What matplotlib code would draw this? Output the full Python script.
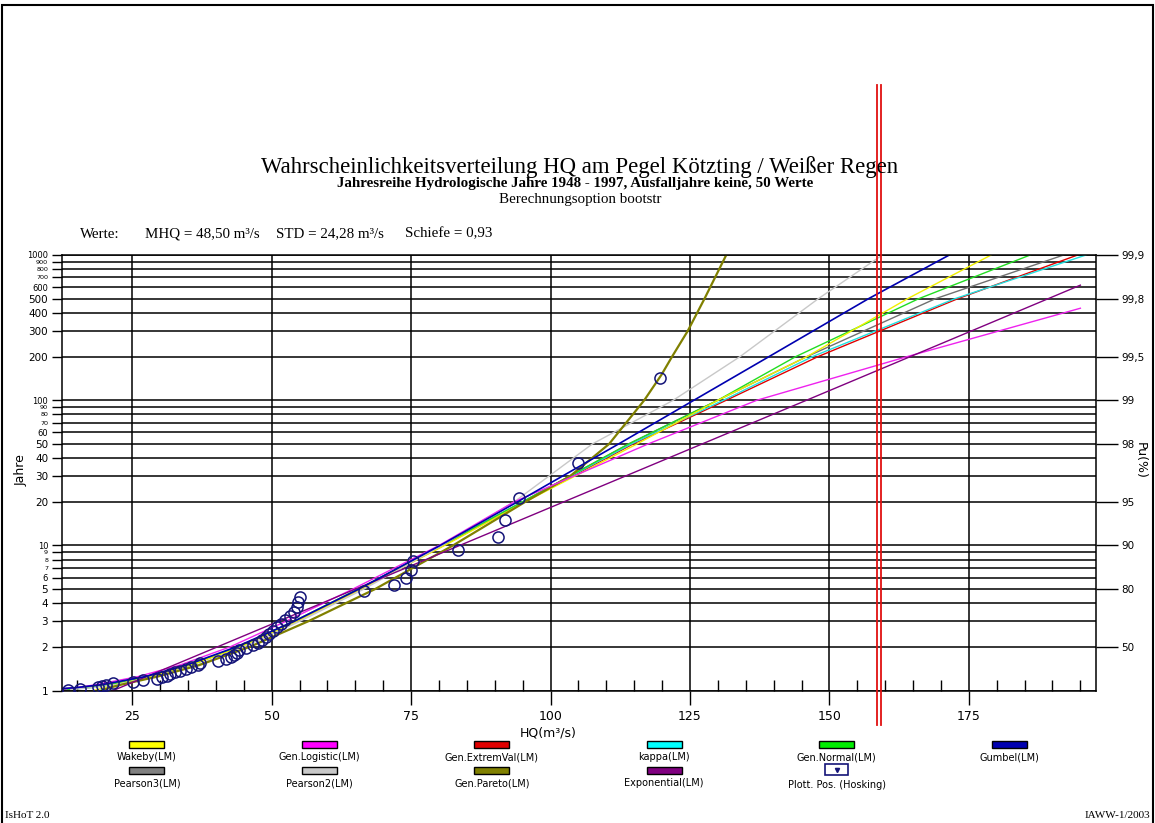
import matplotlib
matplotlib.use("Agg")
import matplotlib.pyplot as plt
from matplotlib.patches import Rectangle
from matplotlib.ticker import MultipleLocator, NullLocator, FixedLocator

# beobachtete HQ-Werte (Plotting Position Hosking), m3/s und Jaehrlichkeit
hq_obs = [13.5, 15.6, 18.8, 19.6, 20.3, 21.5, 25.2, 26.9, 29.5, 30.4,
          31.2, 31.8, 32.6, 33.5, 34.6, 35.5, 36.8, 37.2, 40.3, 41.8,
          42.7, 43.2, 43.7, 44.2, 45.4, 46.6, 47.5, 48.2, 49.0, 49.6,
          50.3, 50.9, 51.6, 52.4, 53.2, 54.0, 54.5, 54.8, 55.0, 66.5,
          71.9, 74.0, 75.0, 75.3, 83.4, 90.5, 91.8, 94.4, 105.0, 119.7]
t_obs = [1.013, 1.034, 1.056, 1.079, 1.103, 1.127, 1.153, 1.181, 1.209, 1.239,
         1.271, 1.304, 1.339, 1.376, 1.414, 1.456, 1.499, 1.546, 1.595, 1.647,
         1.704, 1.764, 1.828, 1.898, 1.972, 2.053, 2.141, 2.237, 2.342, 2.457,
         2.584, 2.725, 2.882, 3.058, 3.257, 3.484, 3.745, 4.049, 4.405, 4.831,
         5.348, 5.988, 6.803, 7.874, 9.346, 11.49, 14.93, 21.28, 37.04, 142.9]

# angepasste Verteilungen
t_std = [1.02, 1.05, 1.1, 1.25, 1.5, 2, 3, 5, 10, 20, 50, 100, 200, 500, 1000]
t_bnd = [1.0, 1.05, 1.1, 1.25, 1.5, 2, 3, 5, 10, 20, 50, 100, 200, 500, 1000]

hq_wak = [18.0, 20.0, 22.0, 28.5, 35.5, 44.5, 54.5, 66.0, 81.0, 95.5, 115.5, 130.0, 146.0, 164.0, 179.0]
hq_glo = [11.0, 15.0, 18.5, 26.0, 33.5, 42.5, 52.5, 64.5, 80.0, 93.5, 117.5, 137.0, 164.0, 195.0]
t_glo = [1.02, 1.05, 1.1, 1.25, 1.5, 2, 3, 5, 10, 20, 50, 100, 200, 430]
hq_gev = [13.5, 17.0, 20.8, 28.0, 35.2, 44.0, 54.0, 65.8, 80.8, 95.3, 114.8, 131.5, 148.0, 173.0, 194.5]
hq_kap = [19.0, 20.5, 22.5, 28.5, 35.5, 44.0, 54.0, 65.5, 80.5, 95.0, 114.5, 131.0, 147.0, 172.5, 196.0]
hq_gno = [13.5, 17.5, 21.0, 28.0, 35.5, 44.0, 54.0, 65.5, 80.5, 95.0, 114.0, 130.0, 144.0, 166.0, 186.0]
hq_gum = [10.0, 14.9, 19.5, 27.3, 34.7, 43.6, 54.0, 65.6, 80.2, 94.1, 112.2, 125.7, 139.2, 157.0, 171.5]
hq_pe3 = [12.5, 16.5, 20.5, 27.5, 35.0, 44.0, 54.0, 65.5, 80.5, 95.0, 114.0, 130.0, 146.0, 169.0, 192.0]
hq_pe2 = [14.0, 18.0, 22.0, 29.0, 36.5, 45.0, 55.0, 66.5, 80.5, 93.5, 107.5, 122.0, 134.0, 148.0, 159.5]
t_gpa = [1.0, 1.05, 1.1, 1.25, 1.5, 2, 3, 5, 10, 20, 30, 50, 100, 150, 200, 300, 500, 1000]
hq_gpa = [19.5, 21.0, 23.0, 29.5, 37.0, 46.0, 56.5, 68.5, 82.5, 95.5, 103.5, 110.5, 116.8, 119.9, 121.8, 124.6, 127.6, 131.5]
t_exp = [1.0, 10, 100, 620]
hq_exp = [21.5, 83.7, 145.9, 195.0]

hq_mark = [158.5, 159.3]

y_ticks = [1, 2, 3, 4, 5, 6, 7, 8, 9, 10, 20, 30, 40, 50, 60, 70, 80, 90,
           100, 200, 300, 400, 500, 600, 700, 800, 900, 1000]
pu_ticks = [2, 5, 10, 20, 50, 100, 200, 500, 1000]
pu_labels = ['50', '80', '90', '95', '98', '99', '99,5', '99,8', '99,9']

legend_items = [
    ('Wakeby(LM)', '#ffff00'), ('Gen.Logistic(LM)', '#ff00ff'), ('Gen.ExtremVal(LM)', '#e00000'),
    ('kappa(LM)', '#00ffff'), ('Gen.Normal(LM)', '#00ee00'), ('Gumbel(LM)', '#0000b0'),
    ('Pearson3(LM)', '#808080'), ('Pearson2(LM)', '#c8c8c8'), ('Gen.Pareto(LM)', '#808000'),
    ('Exponential(LM)', '#800080'), ('Plott. Pos. (Hosking)', None),
]

W, H = 1155, 823
fig = plt.figure(figsize=(W / 100, H / 100), dpi=100)
ax = fig.add_axes([62 / W, 1 - 690.7 / H, (1096 - 62) / W, (690.7 - 255) / H])

ax.set_yscale('log')
ax.set_xlim(12.4, 197.8)
ax.set_ylim(1, 1000)

lw = 1.0
ax.plot(hq_gev, t_std, color='#e00000', lw=lw)
ax.plot(hq_pe3, t_std, color='#707070', lw=lw)
ax.plot(hq_kap, t_bnd, color='#22e0e0', lw=lw)
ax.plot(hq_gno, t_std, color='#22dd22', lw=lw)
ax.plot(hq_wak, t_bnd, color='#f0f000', lw=lw)
ax.plot(hq_pe2, t_std, color='#c8c8c8', lw=lw)
ax.plot(hq_gpa, t_gpa, color='#808000', lw=1.6)
ax.plot(hq_glo, t_glo, color='#ee22ee', lw=lw)
ax.plot(hq_exp, t_exp, color='#800080', lw=lw)
ax.plot(hq_gum, t_std, color='#0000b0', lw=1.2)
ax.plot(hq_obs, t_obs, 'o', ms=8, mfc='none', mec='#141478', mew=1.1, zorder=5)

for xm in hq_mark:
    ax.axvline(xm, ymin=-0.079, ymax=1.39, color='#e01010', lw=1.3, clip_on=False, zorder=6)

ax.grid(True, which='major', color='black', lw=1.1)
ax.set_axisbelow(True)
ax.yaxis.set_major_locator(FixedLocator(y_ticks))
ax.yaxis.set_minor_locator(NullLocator())
ax.set_yticklabels([str(v) for v in y_ticks])
ax.xaxis.set_major_locator(FixedLocator([25, 50, 75, 100, 125, 150, 175]))
ax.xaxis.set_minor_locator(MultipleLocator(5))
ax.tick_params(axis='y', which='major', direction='out', length=7, width=1, labelsize=7.5, pad=3)
ax.tick_params(axis='x', which='major', direction='out', length=10, width=1, labelsize=9, pad=4)
ax.tick_params(axis='x', which='minor', direction='in', length=8, width=1)
# enge Beschriftungen kleiner
small = {7: 4.6, 8: 4.6, 9: 4.6, 70: 4.6, 80: 4.6, 90: 4.6, 700: 4.6, 800: 4.6, 900: 4.6,
         6: 6.0, 60: 6.0, 600: 6.0, 10: 6.0, 100: 6.0, 1000: 6.0}
for v, lab in zip(y_ticks, ax.get_yticklabels()):
    if v in small:
        lab.set_fontsize(small[v])
for s in ax.spines.values():
    s.set_linewidth(1.1)

ax2 = ax.twinx()
ax2.set_yscale('log')
ax2.set_ylim(1, 1000)
ax2.yaxis.set_major_locator(FixedLocator(pu_ticks))
ax2.yaxis.set_minor_locator(NullLocator())
ax2.set_yticklabels(pu_labels)
ax2.tick_params(axis='y', direction='out', length=16, width=1, labelsize=7.5, pad=2)
for s in ax2.spines.values():
    s.set_visible(False)

fig.text(62 / W - 0.035, 0.429, 'Jahre', rotation=90, ha='center', va='center', fontsize=9)
fig.text(1140 / W, 0.441, 'Pu(%)', rotation=270, ha='center', va='center', fontsize=9)
fig.text(548 / W, 1 - 733 / H, 'HQ(m³/s)', ha='center', va='center', fontsize=9)

serif = 'Liberation Serif'
fig.text(580 / W, 1 - 167 / H, 'Wahrscheinlichkeitsverteilung HQ am Pegel Kötzting / Weißer Regen',
         ha='center', va='center', fontsize=16.4, family=serif)
fig.text(575 / W, 1 - 184 / H, 'Jahresreihe Hydrologische Jahre 1948 - 1997, Ausfalljahre keine, 50 Werte',
         ha='center', va='center', fontsize=10.8, family=serif, weight='bold')
fig.text(580 / W, 1 - 200 / H, 'Berechnungsoption bootstr',
         ha='center', va='center', fontsize=10.8, family=serif)
wy = 1 - 234 / H
fs_w = 10.8
fig.text(80 / W, wy, 'Werte:', va='center', fontsize=fs_w, family=serif)
fig.text(145 / W, wy, 'MHQ = 48,50 m³/s', va='center', fontsize=fs_w, family=serif)
fig.text(276 / W, wy, 'STD = 24,28 m³/s', va='center', fontsize=fs_w, family=serif)
fig.text(405 / W, wy, 'Schiefe = 0,93', va='center', fontsize=fs_w, family=serif)

# Legende
for k, (lab, col) in enumerate(legend_items):
    row, c = divmod(k, 6)
    cx = (147 + 172.4 * c) / W
    sy = 1 - (748 + 25.5 * row) / H
    ty = 1 - (757 + 26 * row) / H
    if col is None:
        bw, bh = 23 / W, 11 / H
        fig.patches.append(Rectangle((cx - bw / 2, 1 - 775 / H), bw, bh, transform=fig.transFigure,
                                     facecolor='white', edgecolor='#141478', lw=1.2))
        fig.lines.append(plt.Line2D([cx], [1 - 769.5 / H], marker='v', ms=3, color='#141478',
                                    transform=fig.transFigure))
        ty = 1 - 785 / H
    else:
        sw, sh = 35 / W, 7 / H
        fig.patches.append(Rectangle((cx - sw / 2, sy), sw, sh, transform=fig.transFigure,
                                     facecolor=col, edgecolor='black', lw=1.0))
    fig.text(cx, ty, lab, ha='center', va='center', fontsize=7)

fig.text(5 / W, 1 - 815 / H, 'IsHoT 2.0', va='center', fontsize=8, family=serif)
fig.text(1150 / W, 1 - 815 / H, 'IAWW-1/2003', ha='right', va='center', fontsize=8, family=serif)

fig.patches.append(Rectangle((0.002, -0.01), 0.996, 1.004, transform=fig.transFigure,
                             facecolor='none', edgecolor='black', lw=1.5))

fig.savefig('out.png', dpi=100, facecolor='white')
